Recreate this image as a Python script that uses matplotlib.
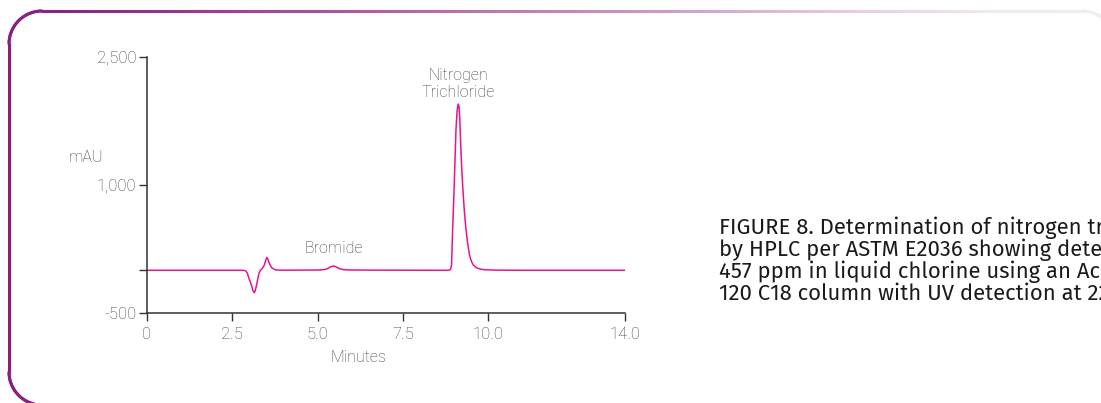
import numpy as np
import matplotlib
matplotlib.use("Agg")
import matplotlib.pyplot as plt
from matplotlib.collections import LineCollection
from matplotlib.colors import to_rgb

# ---- data ----
time_min = [0.0, 1.0, 2.0, 2.80, 2.85, 2.90, 2.94, 2.97, 3.02, 3.07, 3.11, 3.14, 3.17,
            3.21, 3.25, 3.28, 3.32, 3.36, 3.40, 3.44, 3.48, 3.51, 3.54, 3.58, 3.65,
            3.75, 3.90, 4.50, 5.00, 5.20, 5.30, 5.38, 5.46, 5.54, 5.62, 5.72, 5.85,
            6.50, 7.50, 8.50, 8.85, 8.89, 8.92, 8.95, 8.99, 9.02, 9.05, 9.08, 9.10,
            9.12, 9.14, 9.16, 9.18, 9.21, 9.25, 9.29, 9.34, 9.39, 9.44, 9.50, 9.56,
            9.65, 9.75, 9.90, 10.20, 11.0, 12.0, 13.0, 14.0]
absorbance_mau = [0, 0, 0, 0, -2, -10, -35, -75, -130, -190, -245, -263, -240,
                  -172, -90, -35, 0, 15, 35, 65, 120, 150, 130, 82, 30,
                  6, 1, 2, 3, 8, 22, 40, 50, 40, 22, 9, 4,
                  2, 1, 0, 0, 10, 60, 450, 900, 1270, 1650, 1850, 1920,
                  1945, 1915, 1780, 1560, 1260, 960, 720, 490, 320, 190, 105, 60,
                  30, 15, 6, 2, 0, 0, 0, 0]

x_ticks = [0, 2.5, 5.0, 7.5, 10.0, 14.0]
x_tick_labels = ["0", "2.5", "5.0", "7.5", "10.0", "14.0"]
y_ticks = [-500, 0, 1000, 2500]
y_tick_labels = ["-500", "", "1,000", "2,500"]

peak_labels = ["Nitrogen\nTrichloride", "Bromide"]
peak_label_pos = [(9.12, 1995), (5.46, 170)]

caption_lines = [
    "FIGURE 8. Determination of nitrogen trichloride",
    "by HPLC per ASTM E2036 showing detection of",
    "457 ppm in liquid chlorine using an Acclaim",
    "120 C18 column with UV detection at 220 nm.",
]

W, H = 1101, 403
fig = plt.figure(figsize=(W / 100, H / 100), dpi=100)
fig.patch.set_facecolor("white")

label_font = dict(family=["Roboto", "Liberation Sans", "DejaVu Sans"], weight="light")
grey = "#404040"
axis_col = "#333333"

ax = fig.add_axes([147 / W, 1 - 313 / H, 478 / W, (313 - 56.7) / H])
ax.plot(time_min, absorbance_mau, color="#EA148A", lw=1.1, solid_joinstyle="round")
ax.set_xlim(0, 14)
ax.set_ylim(-500, 2500)
for s in ["top", "right"]:
    ax.spines[s].set_visible(False)
for s in ["left", "bottom"]:
    ax.spines[s].set_color(axis_col)
    ax.spines[s].set_linewidth(1.1)
ax.set_xticks(x_ticks)
ax.set_xticklabels(x_tick_labels, color=grey, fontsize=12, **label_font)
ax.set_yticks(y_ticks)
ax.set_yticklabels(y_tick_labels, color=grey, fontsize=12, **label_font)
ax.tick_params(axis="both", direction="out", length=5.5, width=1.0, color=axis_col, pad=2)
ax.tick_params(axis="x", pad=4.5)
ax.set_facecolor("none")

ax.text(peak_label_pos[0][0], peak_label_pos[0][1], peak_labels[0], ha="center", va="bottom",
        color=grey, fontsize=11.5, linespacing=1.15, **label_font)
ax.text(peak_label_pos[1][0], peak_label_pos[1][1], peak_labels[1], ha="center", va="bottom",
        color=grey, fontsize=11.5, **label_font)

fig.text(86 / W, 1 - 157 / H, "mAU", ha="center", va="center", color=grey, fontsize=11.5, **label_font)
fig.text(358 / W, 1 - 358 / H, "Minutes", ha="center", va="center", color=grey, fontsize=11.5, **label_font)

# caption (runs off the right edge, as in the original)
for i, line in enumerate(caption_lines):
    fig.text(719 / W, 1 - (228 + 22 * i) / H, line, ha="left", va="center",
             color="#1a1a1a", fontsize=15.9, family=["Fira Sans", "Noto Sans", "Open Sans", "DejaVu Sans"])

# ---- decorative rounded frame with fading gradient ----
r = 33
pts = []
pts += [(x, 405) for x in np.linspace(120, 42, 10)]
th = np.linspace(np.pi / 2, np.pi, 30)
pts += list(zip(42 + r * np.cos(th), 372 + r * np.sin(th)))
pts += [(9, y) for y in np.linspace(372, 44, 20)]
th = np.linspace(np.pi, 1.5 * np.pi, 30)
pts += list(zip(42 + r * np.cos(th), 44 + r * np.sin(th)))
pts += [(x, 11) for x in np.linspace(42, 1082, 300)]
th = np.linspace(1.5 * np.pi, 2 * np.pi, 30)
pts += list(zip(1082 + r * np.cos(th), 44 + r * np.sin(th)))
pts = np.array(pts)
fx = pts[:, 0] / W
fy = 1 - pts[:, 1] / H
segs = np.stack([np.column_stack([fx[:-1], fy[:-1]]), np.column_stack([fx[1:], fy[1:]])], axis=1)

stops_x = [0, 150, 400, 650, 850, 1000, 1101]
stops_c = ["#8A1C7F", "#962E8A", "#B066A5", "#CC98C4", "#E6CCE1", "#F2EAF1", "#EFEDEF"]
stops_rgb = np.array([to_rgb(c) for c in stops_c])
mid = (pts[:-1, 0] + pts[1:, 0]) / 2
cols = np.column_stack([np.interp(mid, stops_x, stops_rgb[:, k]) for k in range(3)])
lc = LineCollection(segs, colors=cols, linewidths=2.2, transform=fig.transFigure,
                    capstyle="round")
lc.set_clip_on(False)
fig.add_artist(lc)

fig.savefig("out.png", dpi=100, facecolor="white")
